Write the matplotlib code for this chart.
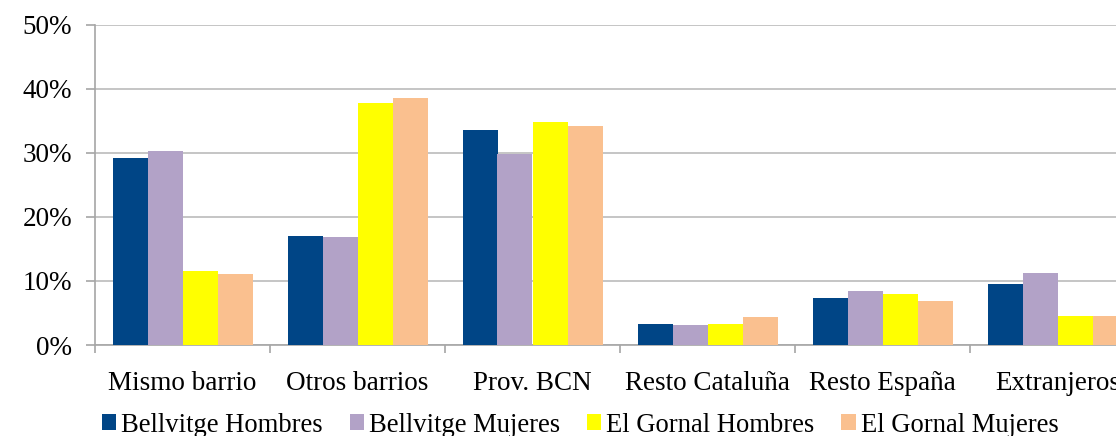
import numpy as np
import matplotlib
matplotlib.use("Agg")
import matplotlib.pyplot as plt
from matplotlib.patches import Patch
from matplotlib.ticker import FuncFormatter, FixedLocator

plt.rcParams['font.family'] = ['Liberation Serif', 'DejaVu Serif']

categories = ["Mismo barrio", "Otros barrios", "Prov. BCN",
              "Resto Cataluña", "Resto España", "Extranjeros"]
series_names = ["Bellvitge Hombres", "Bellvitge Mujeres",
                "El Gornal Hombres", "El Gornal Mujeres"]
bellvitge_hombres = [29.2, 17.1, 33.6, 3.3, 7.3, 9.5]
bellvitge_mujeres = [30.3, 16.9, 29.8, 3.1, 8.5, 11.3]
gornal_hombres = [11.5, 37.8, 34.8, 3.3, 7.9, 4.5]
gornal_mujeres = [11.1, 38.6, 34.2, 4.3, 6.9, 4.6]
series = [bellvitge_hombres, bellvitge_mujeres, gornal_hombres, gornal_mujeres]
colors = ["#004586", "#b2a2c7", "#ffff00", "#fac08f"]

W, H = 1116, 436
fig = plt.figure(figsize=(W / 100, H / 100), dpi=100)
ax = fig.add_axes([95 / W, 91 / H, 1050 / W, 320 / H])

x = np.arange(len(categories))
bw = 0.2
for i, (vals, col) in enumerate(zip(series, colors)):
    ax.bar(x - 0.3 + i * bw, vals, width=bw, color=col, zorder=3,
           edgecolor='none', label=series_names[i])

ax.set_xlim(-0.5, len(categories) - 0.5)
ax.set_ylim(0, 50)
ax.yaxis.set_major_locator(FixedLocator([0, 10, 20, 30, 40, 50]))
ax.yaxis.set_major_formatter(FuncFormatter(lambda v, p: f"{int(v)}%"))
ax.grid(axis='y', color='#c0c0c0', linewidth=1.3, zorder=0)

ax.set_xticks(x)
ax.set_xticklabels(categories)
ax.set_xticks(np.arange(-0.5, len(categories), 1.0), minor=True)
ax.tick_params(axis='x', which='major', length=0, pad=19, labelsize=19.5)
ax.tick_params(axis='x', which='minor', length=6, color='#a6a6a6', width=1.2)
ax.tick_params(axis='y', length=6.5, color='#a6a6a6', width=1.2,
               labelsize=19.5, pad=10)

for s in ['top', 'right']:
    ax.spines[s].set_visible(False)
for s in ['left', 'bottom']:
    ax.spines[s].set_color('#a6a6a6')
    ax.spines[s].set_linewidth(1.2)

handles = [Patch(facecolor=c, edgecolor='none') for c in colors]
fig.legend(handles, series_names, loc='center left',
           bbox_to_anchor=(102 / W, 1 - 425 / H), ncol=4, frameon=False,
           fontsize=19.2, handlelength=0.53, handleheight=0.53,
           handletextpad=0.2, columnspacing=1.0, borderpad=0, borderaxespad=0)

fig.savefig("out.png", dpi=100)
